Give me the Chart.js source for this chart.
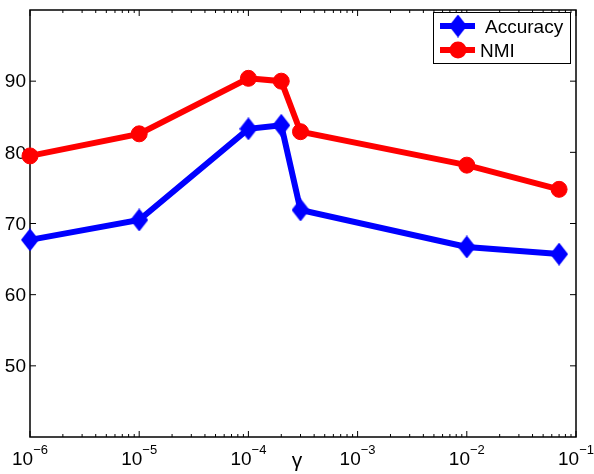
<!DOCTYPE html>
<html>
<head>
<meta charset="utf-8">
<script src="https://cdn.jsdelivr.net/npm/chart.js@4"></script>
<style>
  html, body { margin: 0; padding: 0; background: #fff; }
  #wrap { width: 594px; height: 474px; }
</style>
</head>
<body>
<div id="wrap"><canvas id="lineChart" width="594" height="474"></canvas></div>
<script>
// valores de gamma (eje x logarítmico) y resultados
const gammaValues = [1e-6, 1e-5, 1e-4, 2e-4, 3e-4, 1e-2, 7e-2];
const accuracy = [67.7, 70.5, 83.3, 83.8, 71.9, 66.7, 65.7];
const nmi = [79.5, 82.6, 90.4, 90.0, 82.9, 78.2, 74.8];
const yTicks = [50, 60, 70, 80, 90];
const xExponents = [-6, -5, -4, -3, -2, -1];
const seriesNames = ['Accuracy', 'NMI'];

const FONT = '"Liberation Sans", Arial, Helvetica, sans-serif';

// marcador de rombo (un poco más alto que ancho, como en MATLAB)
const diamond = document.createElement('canvas');
diamond.width = 18;
diamond.height = 23;
(function () {
    const c = diamond.getContext('2d');
    c.fillStyle = '#0000ff';
    c.beginPath();
    c.moveTo(9, 0);
    c.lineTo(18, 11.5);
    c.lineTo(9, 23);
    c.lineTo(0, 11.5);
    c.closePath();
    c.fill();
})();

const axesPlugin = {
    id: 'matlabAxes',
    beforeDatasetsDraw(chart) {
        const ctx = chart.ctx;
        const a = chart.chartArea;
        const xs = chart.scales.x;
        const ys = chart.scales.y;
        ctx.save();
        ctx.strokeStyle = '#000';
        ctx.lineWidth = 1;
        // marcas menores / mayores del eje x (arriba y abajo)
        ctx.beginPath();
        xExponents.forEach((e, i) => {
            const base = Math.pow(10, e);
            const px = xs.getPixelForValue(base);
            ctx.moveTo(px, a.bottom); ctx.lineTo(px, a.bottom - 6);
            ctx.moveTo(px, a.top); ctx.lineTo(px, a.top + 6);
            if (i < xExponents.length - 1) {
                for (let m = 2; m <= 9; m++) {
                    const mx = xs.getPixelForValue(base * m);
                    ctx.moveTo(mx, a.bottom); ctx.lineTo(mx, a.bottom - 3);
                    ctx.moveTo(mx, a.top); ctx.lineTo(mx, a.top + 3);
                }
            }
        });
        yTicks.forEach(v => {
            const py = ys.getPixelForValue(v);
            ctx.moveTo(a.left, py); ctx.lineTo(a.left + 6, py);
            ctx.moveTo(a.right, py); ctx.lineTo(a.right - 6, py);
        });
        ctx.stroke();
        // marco
        ctx.lineWidth = 1.5;
        ctx.strokeRect(a.left, a.top, a.right - a.left, a.bottom - a.top);

        // etiquetas y
        ctx.fillStyle = '#000';
        ctx.font = '19px ' + FONT;
        ctx.textAlign = 'right';
        ctx.textBaseline = 'middle';
        yTicks.forEach(v => {
            ctx.fillText(String(v), a.left - 4, ys.getPixelForValue(v) + 1);
        });

        // etiquetas x: 10^e
        ctx.textBaseline = 'alphabetic';
        ctx.textAlign = 'left';
        xExponents.forEach(e => {
            const px = xs.getPixelForValue(Math.pow(10, e));
            ctx.font = '19px ' + FONT;
            const wb = ctx.measureText('10').width;
            const sup = '\u2212' + Math.abs(e);
            ctx.font = '13px ' + FONT;
            const ws = ctx.measureText(sup).width;
            const x0 = px - (wb + ws) / 2;
            ctx.font = '19px ' + FONT;
            ctx.fillText('10', x0, a.bottom + 28);
            ctx.font = '13px ' + FONT;
            ctx.fillText(sup, x0 + wb, a.bottom + 17);
        });

        // título del eje x
        ctx.font = '21px ' + FONT;
        ctx.textAlign = 'center';
        ctx.fillText('\u03b3', (a.left + a.right) / 2 - 6, a.bottom + 30);
        ctx.restore();
    },
    afterDraw(chart) {
        const ctx = chart.ctx;
        ctx.save();
        const bx = 433, by = 12, bw = 137, bh = 51;
        ctx.fillStyle = '#fff';
        ctx.fillRect(bx, by, bw, bh);
        ctx.strokeStyle = '#000';
        ctx.lineWidth = 1;
        ctx.strokeRect(bx + 0.5, by + 0.5, bw, bh);

        // Accuracy
        ctx.strokeStyle = '#0000ff';
        ctx.lineWidth = 6;
        ctx.beginPath();
        ctx.moveTo(440, 26); ctx.lineTo(475, 26);
        ctx.stroke();
        ctx.drawImage(diamond, 458 - 9, 26 - 11.5);
        // NMI
        ctx.strokeStyle = '#ff0000';
        ctx.beginPath();
        ctx.moveTo(440, 50); ctx.lineTo(475, 50);
        ctx.stroke();
        ctx.fillStyle = '#ff0000';
        ctx.beginPath();
        ctx.arc(458, 50, 8.5, 0, Math.PI * 2);
        ctx.fill();

        ctx.fillStyle = '#000';
        ctx.font = '19px ' + FONT;
        ctx.textAlign = 'left';
        ctx.textBaseline = 'alphabetic';
        ctx.fillText(seriesNames[0], 485, 33);
        ctx.fillText(seriesNames[1], 480, 57);
        ctx.restore();
    }
};

const ctx = document.getElementById('lineChart').getContext('2d');
new Chart(ctx, {
    type: 'line',
    data: {
        datasets: [
            {
                label: seriesNames[1],
                data: gammaValues.map((g, i) => ({ x: g, y: nmi[i] })),
                borderColor: '#ff0000',
                backgroundColor: '#ff0000',
                borderWidth: 6,
                pointRadius: 8,
                pointBorderWidth: 1,
                pointStyle: 'circle',
                tension: 0,
                clip: false
            },
            {
                label: seriesNames[0],
                data: gammaValues.map((g, i) => ({ x: g, y: accuracy[i] })),
                borderColor: '#0000ff',
                backgroundColor: '#0000ff',
                borderWidth: 6,
                pointStyle: diamond,
                tension: 0,
                clip: false
            }
        ]
    },
    options: {
        responsive: false,
        animation: false,
        events: [],
        layout: { padding: { left: 30, right: 18, top: 6, bottom: 37 } },
        plugins: { legend: { display: false }, tooltip: { enabled: false } },
        scales: {
            x: { type: 'logarithmic', min: 1e-6, max: 1e-1, display: false },
            y: { type: 'linear', min: 40, max: 100, display: false }
        }
    },
    plugins: [axesPlugin]
});
</script>
</body>
</html>
